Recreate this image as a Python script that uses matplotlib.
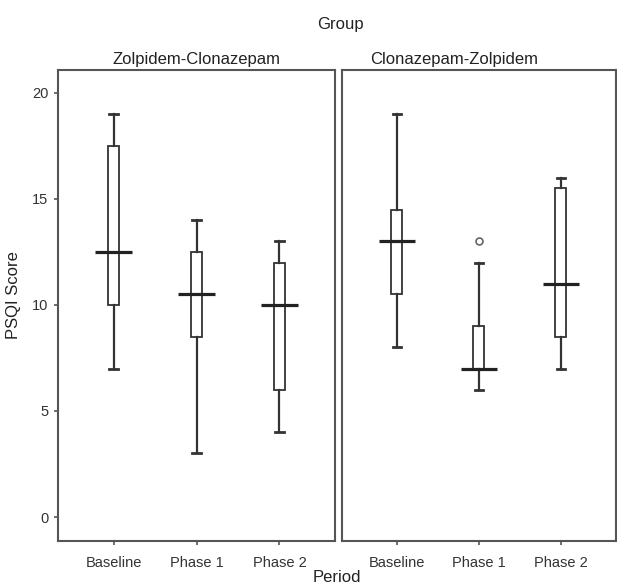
import matplotlib
matplotlib.use("Agg")
import matplotlib.pyplot as plt

plt.rcParams["font.family"] = ["Liberation Sans", "DejaVu Sans"]
plt.rcParams["font.size"] = 10.5

# data (PSQI score per period)
periods = ["Baseline", "Phase 1", "Phase 2"]
groups = ["Zolpidem-Clonazepam", "Clonazepam-Zolpidem"]

zc_whislo = [7, 3, 4]
zc_q1 = [10, 8.5, 6]
zc_med = [12.5, 10.5, 10]
zc_q3 = [17.5, 12.5, 12]
zc_whishi = [19, 14, 13]
zc_fliers = [[], [], []]

cz_whislo = [8, 6, 7]
cz_q1 = [10.5, 7, 8.5]
cz_med = [13, 7, 11]
cz_q3 = [14.5, 9, 15.5]
cz_whishi = [19, 12, 16]
cz_fliers = [[], [13], []]

panel_data = [
    (zc_whislo, zc_q1, zc_med, zc_q3, zc_whishi, zc_fliers),
    (cz_whislo, cz_q1, cz_med, cz_q3, cz_whishi, cz_fliers),
]

fig = plt.figure(figsize=(6.17, 5.87), dpi=100)
ax1 = fig.add_axes([0.094, 0.0784, 0.449, 0.8023])
ax2 = fig.add_axes([0.554, 0.0784, 0.444, 0.8023])

edge = "#333333"
title_x = [0.5, 0.41]
for ax, title, data, tx in zip([ax1, ax2], groups, panel_data, title_x):
    lo, q1, med, q3, hi, fl = data
    stats = []
    for i in range(len(periods)):
        stats.append({"whislo": lo[i], "q1": q1[i], "med": med[i], "q3": q3[i],
                      "whishi": hi[i], "fliers": fl[i], "label": periods[i]})
    pos = list(range(len(periods)))
    ax.bxp(stats, positions=pos, widths=0.13, capwidths=0.1, patch_artist=True,
           boxprops=dict(facecolor="white", edgecolor=edge, linewidth=1.3),
           whiskerprops=dict(color=edge, linewidth=1.6),
           capprops=dict(color=edge, linewidth=2.0),
           medianprops=dict(linewidth=0),
           flierprops=dict(marker="o", markersize=5, markerfacecolor="white",
                           markeredgecolor="#666666", markeredgewidth=1.2))
    # wide median bars
    ax.hlines(med, [p - 0.22 for p in pos], [p + 0.22 for p in pos],
              colors="#222222", linewidth=2.3, zorder=4)
    ax.set_xlim(-0.67, 2.67)
    ax.set_ylim(-1.13, 21.08)
    ax.set_xticks(pos)
    ax.set_xticklabels(periods, color="#333333")
    ax.set_title(title, fontsize=12, pad=4, color="#222222", x=tx)
    for s in ax.spines.values():
        s.set_color("#555555")
        s.set_linewidth(1.5)
    ax.tick_params(axis="x", length=3, width=1.2, color="#555555", pad=8)

ax1.set_yticks([0, 5, 10, 15, 20])
ax1.tick_params(axis="y", length=3, width=1.2, color="#555555", labelcolor="#333333", pad=4)
ax1.set_ylabel("PSQI Score", fontsize=12, color="#222222", labelpad=3)
ax1.yaxis.set_label_coords(-0.135, 0.522)
ax2.set_yticks([])

fig.text(0.551, 0.959, "Group", ha="center", va="center", fontsize=12, color="#222222")
fig.text(0.546, 0.003, "Period", ha="center", va="bottom", fontsize=12, color="#222222")

fig.savefig("out.png", dpi=100)
